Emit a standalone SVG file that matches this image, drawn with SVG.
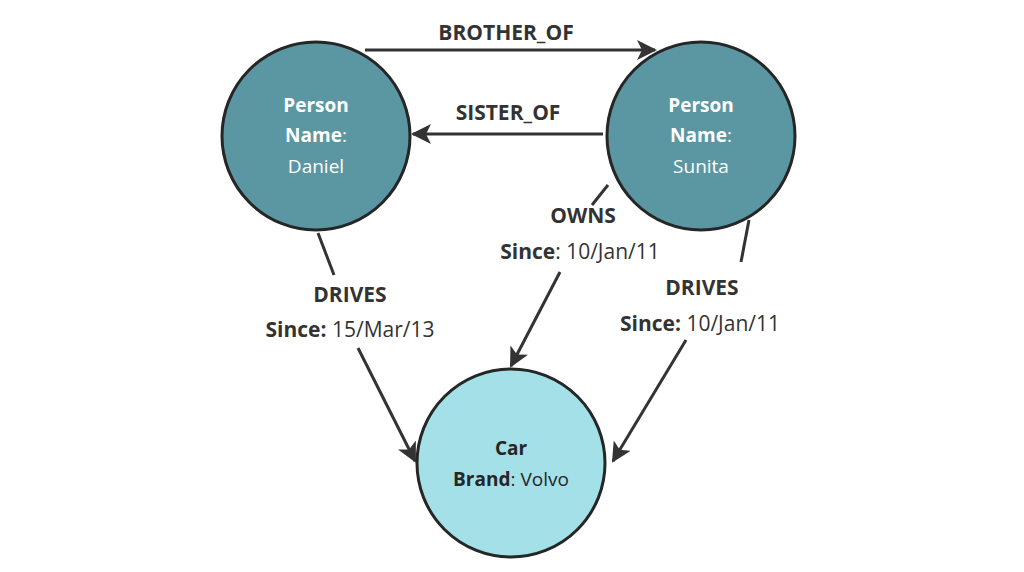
<svg xmlns="http://www.w3.org/2000/svg" width="1024" height="572" viewBox="0 0 1024 572">
<style>
.n{stroke:#262626;stroke-width:3}
.p{fill:#5b97a2}
.c{fill:#a4e0e8}
.t{font-family:"Open Sans",sans-serif;font-size:19px;text-anchor:middle}
.w{fill:#fff}
.d{fill:#262626}
.l{font-family:"Open Sans",sans-serif;font-size:21px;text-anchor:middle;fill:#333}
.e{stroke:#333;stroke-width:3;fill:none}
b{font-weight:bold}
</style>
<defs>
<marker id="a" viewBox="0 0 20 20" refX="18" refY="10" markerWidth="20" markerHeight="20" markerUnits="userSpaceOnUse" orient="auto">
<path d="M0,0 L20,10 L0,20 L5,10 Z" fill="#333"/>
</marker>
</defs>
<g id="connectors">
<path class="e" d="M365,50 L655,50" marker-end="url(#a)"/>
<path class="e" d="M603,134 L413,134" marker-end="url(#a)"/>
<path class="e" d="M608,185 L592,205"/>
<path class="e" d="M560,272 L511,366" marker-end="url(#a)"/>
<path class="e" d="M318,233 L334,275"/>
<path class="e" d="M358,348 L415,461" marker-end="url(#a)"/>
<path class="e" d="M749,220 L741,262"/>
<path class="e" d="M686,340 L613,461" marker-end="url(#a)"/>
<text class="l" x="506" y="40" font-weight="bold">BROTHER_OF</text>
<text class="l" x="508" y="120" font-weight="bold">SISTER_OF</text>
<text class="l" x="583" y="223" font-weight="bold">OWNS</text>
<text class="l" x="580" y="259"><tspan font-weight="bold">Since</tspan>: 10/Jan/11</text>
<text class="l" x="350" y="302" font-weight="bold">DRIVES</text>
<text class="l" x="350" y="337"><tspan font-weight="bold">Since:</tspan> 15/Mar/13</text>
<text class="l" x="702" y="295" font-weight="bold">DRIVES</text>
<text class="l" x="700" y="331"><tspan font-weight="bold">Since:</tspan> 10/Jan/11</text>
</g>
<g id="daniel">
<circle class="n p" cx="316" cy="136" r="94"/>
<text class="t w" x="316" y="112" font-weight="bold">Person</text>
<text class="t w" x="316" y="142"><tspan font-weight="bold">Name</tspan>:</text>
<text class="t w" x="316" y="173">Daniel</text>
</g>
<g id="sunita">
<circle class="n p" cx="701" cy="136" r="94"/>
<text class="t w" x="701" y="112" font-weight="bold">Person</text>
<text class="t w" x="701" y="142"><tspan font-weight="bold">Name</tspan>:</text>
<text class="t w" x="701" y="173">Sunita</text>
</g>
<g id="car">
<circle class="n c" cx="511" cy="463" r="94"/>
<text class="t d" x="511" y="455" font-weight="bold">Car</text>
<text class="t d" x="511" y="486"><tspan font-weight="bold">Brand</tspan>: Volvo</text>
</g>
</svg>
